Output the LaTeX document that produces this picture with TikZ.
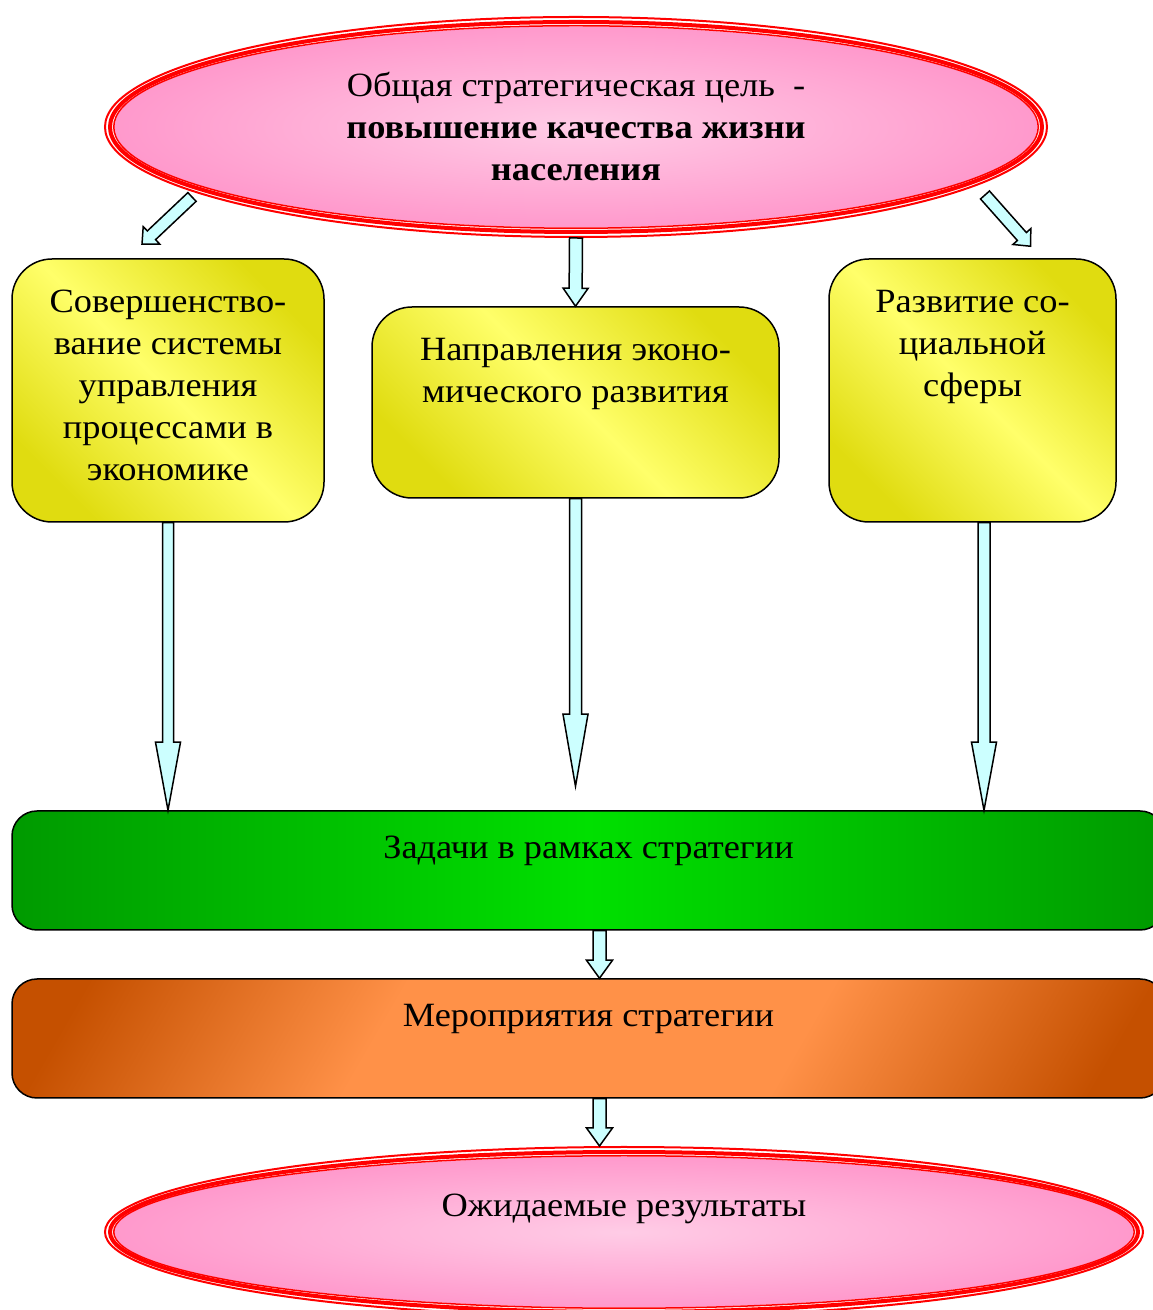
\documentclass[tikz,border=0pt]{standalone}
\usepackage{fontspec}
\setmainfont{Liberation Serif}[FakeStretch=1.07]
\usetikzlibrary{positioning,calc,shapes.geometric}

\definecolor{goalpink}{HTML}{FF99CC}
\definecolor{goallight}{HTML}{FFCCE6}
\definecolor{arrowcyan}{HTML}{CCFFFF}
\definecolor{boxyellow}{HTML}{FFFF6A}
\definecolor{boxolive}{HTML}{E0DC10}
\definecolor{taskdark}{HTML}{009A00}
\definecolor{tasklight}{HTML}{00E000}
\definecolor{actdark}{HTML}{C55000}
\definecolor{actlight}{HTML}{FF9148}

\pgfdeclarehorizontalshading{actshade}{100bp}{color(0bp)=(actdark); color(20bp)=(actdark);
  color(38bp)=(actlight); color(62bp)=(actlight); color(80bp)=(actdark); color(100bp)=(actdark)}

% hollow block arrow: from, to, shaft half width, head half width, head length
\newcommand{\blockarrow}[5]{%
  \coordinate (hb) at ($(#2)!#5!(#1)$);
  \draw[arrowbody] ($(#1)!#3!90:(#2)$) -- ($(hb)!#3!90:(#2)$) -- ($(hb)!#4!90:(#2)$) -- (#2)
    -- ($(hb)!#4!-90:(#2)$) -- ($(hb)!#3!-90:(#2)$) -- ($(#1)!#3!-90:(#2)$) -- cycle;
}

\begin{document}
\begin{tikzpicture}[x=1pt,y=1pt,
  every node/.style={font=\fontsize{34}{42}\selectfont},
  arrowbody/.style={draw=black, line width=1.5pt, fill=arrowcyan, line join=miter},
  goalshape/.style={ellipse, inner color=goallight, outer color=goalpink, outer sep=10.5pt},
  yellowbox/.style={rectangle, rounded corners=40pt, draw=black, line width=1.5pt,
    top color=boxolive, bottom color=boxolive, middle color=boxyellow, shading angle=-45},
  taskbar/.style={rectangle, rounded corners=25pt, draw=black, line width=1.5pt,
    left color=taskdark, right color=taskdark, middle color=tasklight},
  actbar/.style={rectangle, rounded corners=25pt, draw=black, line width=1.5pt,
    shading=actshade, shading angle=-30},
  boxtext/.style={align=center, inner sep=0pt}]
\useasboundingbox (0,0) rectangle (1153,1310);
\fill[white] (0,0) rectangle (1153,1310);
\clip (0,0) rectangle (1153,1310);

% boxes
\node[yellowbox, minimum width=312pt, minimum height=263pt] (sys) at (168,919.5) {};
\node[yellowbox, minimum width=407pt, minimum height=191pt] (econ) at (575.5,907.5) {};
\node[yellowbox, minimum width=287pt, minimum height=263pt] (soc) at (972.5,919.5) {};
\node[taskbar, minimum width=1153pt, minimum height=119pt] (tasks) at (588.5,439.5) {};
\node[actbar, minimum width=1153pt, minimum height=119pt] (acts) at (588.5,271.5) {};

% ellipses
\node[goalshape, minimum width=923pt, minimum height=201pt, align=center] (goal) at (576,1183)
  {Общая стратегическая цель~~-\\\textbf{повышение качества жизни}\\\textbf{населения}};
\node[goalshape, minimum width=1019pt, minimum height=151pt] (res) at (624,78) {};
\foreach \d/\w in {1/2,6/4,9.75/1.5}{
  \draw[red, line width=\w*1pt] (goal.center) ellipse [x radius=472-\d, y radius=111-\d];
  \draw[red, line width=\w*1pt] (res.center) ellipse [x radius=520-\d, y radius=86-\d];
}

% texts
\node[boxtext, below=32pt of sys.north] (systext)
  {Совершенство-\\вание системы\\управления\\процессами в\\экономике};
\node[boxtext, below=32pt of econ.north] (econtext)
  {Направления эконо-\\мического развития};
\node[boxtext, below=32pt of soc.north] (soctext)
  {Развитие со-\\циальной\\сферы};
\node[anchor=base, inner sep=0pt] (taskstext) at ($(tasks.center)+(0,12)$) {Задачи в рамках стратегии};
\node[anchor=base, inner sep=0pt] (actstext) at ($(acts.center)+(0,11.5)$) {Мероприятия стратегии};
\node[anchor=base, inner sep=0pt] (restext) at ($(res.center)+(0,15)$) {Ожидаемые результаты};

% arrows
\coordinate (s1) at ($(goal.center)+(-384,-70)$);
\coordinate (t1) at ($(sys.north)+(-26,14)$);
\coordinate (s3) at ($(goal.center)+(409,-68)$);
\coordinate (t3) at ($(soc.north)+(58,12)$);
\coordinate (t4) at (sys.south |- tasks.north);
\coordinate (t5) at ($(econ.south |- tasks.north)+(0,24)$);
\coordinate (s6) at ($(soc.south)+(11.5,0)$);
\coordinate (t6) at (s6 |- tasks.north);
\coordinate (s7) at ($(tasks.south)+(11,0)$);
\coordinate (t7) at (s7 |- acts.north);
\coordinate (s8) at ($(acts.south)+(11,0)$);
\coordinate (t8) at (s8 |- res.north);
\blockarrow{s1}{t1}{6pt}{12pt}{13pt}
\blockarrow{goal.south}{econ.north}{6.5pt}{12.5pt}{18pt}
\blockarrow{s3}{t3}{6pt}{12pt}{13pt}
\blockarrow{sys.south}{t4}{5.5pt}{12.5pt}{68pt}
\blockarrow{econ.south}{t5}{6pt}{12.5pt}{72pt}
\blockarrow{s6}{t6}{6pt}{12.5pt}{68pt}
\blockarrow{s7}{t7}{6.5pt}{13pt}{18pt}
\blockarrow{s8}{t8}{6.5pt}{13pt}{18pt}
\end{tikzpicture}
\end{document}
